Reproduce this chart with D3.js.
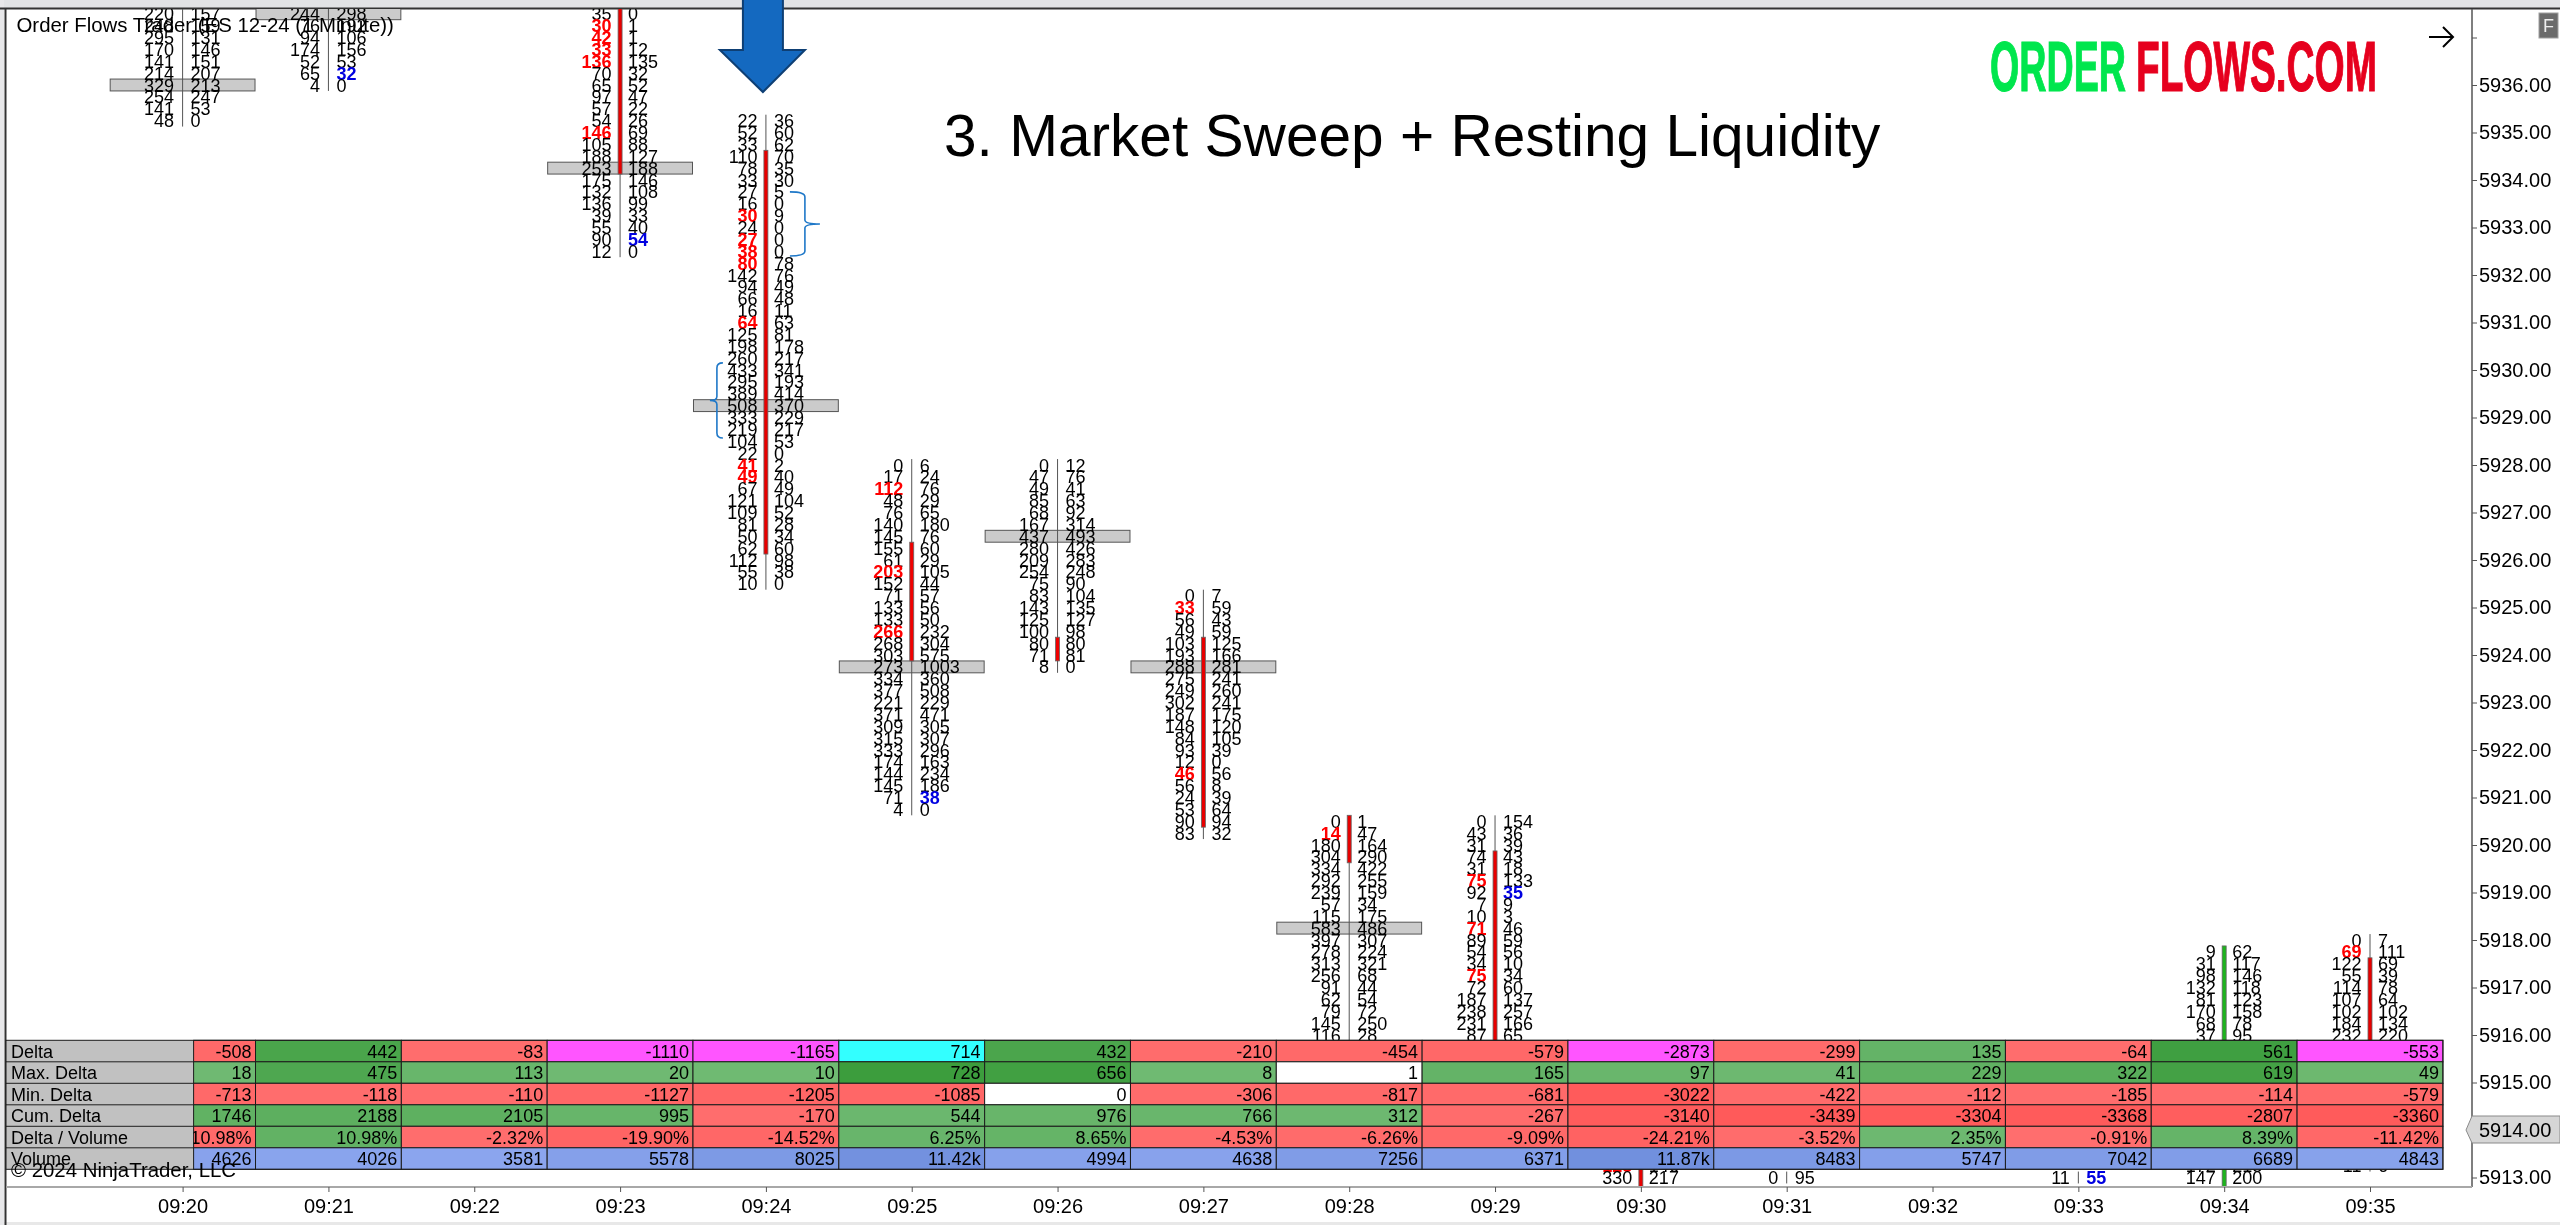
<!DOCTYPE html>
<html><head><meta charset="utf-8">
<script src="https://cdn.jsdelivr.net/npm/d3@7/dist/d3.min.js"></script>
<style>
html,body{margin:0;padding:0;background:#fff;overflow:hidden}
svg{display:block;filter:blur(0.35px)}
text{font-family:"Liberation Sans",Arial,sans-serif;fill:#000}
</style></head><body>
<script>
// ---------- categories ----------
const times = ["09:20","09:21","09:22","09:23","09:24","09:25","09:26","09:27","09:28","09:29","09:30","09:31","09:32","09:33","09:34","09:35"];
const priceTicks = d3.range(5913, 5938);

// ---------- footprint bars ----------
const barTimes   = ["09:20","09:21","09:23","09:24","09:25","09:26","09:27","09:28","09:29","09:34","09:35"];
const barTop     = [5937.5,5937.5,5937.5,5935.25,5928,5928,5925.25,5920.5,5920.5,5917.75,5918];
const barPoc     = [5936,5937.5,5934.25,5929.25,5923.75,5926.5,5923.75,5918.25,null,null,null];
const bodyHigh   = [null,null,5937.5,5934.5,5926.25,5924.25,5924.25,5920.5,5919.75,5917.75,5917.5];
const bodyLow    = [null,null,5934.25,5926.25,5924,5924,5920.5,5919.75,5916,5916,5916];
const bodyColor  = ["","","#e80000","#e80000","#f00000","#f00000","#e80000","#e80000","#e80000","#1db51d","#e80000"];
const barBids = [
 [220,248,295,170,141,214,329,254,141,48],
 [244,76,94,174,52,65,4],
 [35,30,42,33,136,70,65,97,57,54,146,105,188,253,175,132,136,39,55,90,12],
 [22,52,33,110,78,33,27,16,30,24,27,38,80,142,94,66,16,64,125,198,260,433,295,389,508,333,219,104,22,41,49,67,121,109,81,50,62,112,55,10],
 [0,17,112,48,76,140,145,155,61,203,152,71,133,133,266,268,303,273,334,377,221,371,309,315,333,174,144,145,71,4],
 [0,47,49,85,68,167,437,280,209,254,75,83,143,125,100,80,71,8],
 [0,33,56,49,103,193,288,275,249,302,187,148,84,93,12,46,56,24,53,90,83],
 [0,14,180,304,334,292,239,57,115,583,397,278,313,256,91,62,79,145,116],
 [0,43,31,74,31,75,92,7,10,71,89,54,34,75,72,187,238,231,87],
 [9,31,98,132,81,170,68,37],
 [0,69,122,55,114,107,102,184,232]
];
const barAsks = [
 [157,159,131,146,151,207,213,247,53,0],
 [298,192,106,156,53,32,0],
 [0,1,1,12,135,32,52,47,22,26,69,88,127,188,146,108,99,33,40,54,0],
 [36,60,62,70,35,30,5,0,9,0,0,0,78,76,49,48,11,63,81,178,217,341,193,414,370,229,217,53,0,2,40,49,104,52,28,34,60,98,38,0],
 [6,24,76,29,65,180,76,60,29,105,44,57,56,50,232,304,575,1003,360,508,229,471,305,307,296,163,234,186,38,0],
 [12,76,41,63,92,314,493,426,283,248,90,104,135,127,98,80,81,0],
 [7,59,43,59,125,166,281,241,260,241,175,120,105,39,0,56,8,39,64,94,32],
 [1,47,164,290,422,255,159,34,175,486,307,224,321,68,44,54,72,250,28],
 [154,36,39,43,18,133,35,9,3,46,59,56,10,34,60,137,257,166,65],
 [62,117,146,118,123,158,78,95],
 [7,111,69,39,78,64,102,134,220]
];
const redBidRows  = [[],[],[1,2,3,4,10],[8,10,11,12,17,29,30],[2,9,14],[],[1,15],[1],[5,9,13],[],[1]];
const blueAskRows = [[],[5],[19],[],[28],[],[],[],[6],[],[]];

// rows seen in the strip between the table and the time axis
const lowTimes  = ["09:30","09:30","09:31","09:33","09:34","09:34","09:35"];
const lowPrices = [5913.25,5913,5913,5913,5913.25,5913,5913.25];
const lowBids   = [125,330,0,11,172,147,11];
const lowAsks   = [146,217,95,55,218,200,6];
const lowRedBid = [true,false,false,false,false,false,false];
const lowBlueAsk= [false,false,false,true,false,false,false];
const lowBodies = [["09:30","#e80000"],["09:34","#1db51d"]];

// ---------- statistics table ----------
const rowNames = ["Delta","Max. Delta","Min. Delta","Cum. Delta","Delta / Volume","Volume"];
const deltaVals = [-508,442,-83,-1110,-1165,714,432,-210,-454,-579,-2873,-299,135,-64,561,-553];
const maxDeltaVals = [18,475,113,20,10,728,656,8,1,165,97,41,229,322,619,49];
const minDeltaVals = [-713,-118,-110,-1127,-1205,-1085,0,-306,-817,-681,-3022,-422,-112,-185,-114,-579];
const cumDeltaVals = [1746,2188,2105,995,-170,544,976,766,312,-267,-3140,-3439,-3304,-3368,-2807,-3360];
const deltaVolVals = [-10.98,10.98,-2.32,-19.90,-14.52,6.25,8.65,-4.53,-6.26,-9.09,-24.21,-3.52,2.35,-0.91,8.39,-11.42];
const volumeVals = [4626,4026,3581,5578,8025,11420,4994,4638,7256,6371,11870,8483,5747,7042,6689,4843];

const titleText = "3. Market Sweep + Resting Liquidity";
const instrumentText = "Order Flows Trader (ES 12-24 (1 Minute))";
const copyrightText = "\u00A9 2024 NinjaTrader, LLC";
const lastPrice = 5914;
const bracketRight = ["09:24",5933.75,5932.4];
const bracketLeft  = ["09:24",5930.15,5928.57];
const arrowTime = "09:24";

// ---------- layout ----------
const W=2560,H=1225;
const plot={l:6,t:9,r:2472,b:1187};
const x=d3.scalePoint().domain(times).range([182.6,2370]);
const y=d3.scaleLinear().domain([5936,5913]).range([85,1177.5]);
const rowH=y(5935.75)-y(5936);
const colW=x.step();

const svg=d3.select("body").append("svg").attr("width",W).attr("height",H);
svg.append("rect").attr("width",W).attr("height",H).attr("fill","#fff");
const defs=svg.append("defs");
defs.append("clipPath").attr("id","plotClip").append("rect")
  .attr("x",plot.l).attr("y",plot.t).attr("width",plot.r-plot.l).attr("height",plot.b-plot.t);

// window chrome
svg.append("rect").attr("width",W).attr("height",8).attr("fill","#e2e3e5");
svg.append("rect").attr("y",1222).attr("width",W).attr("height",3).attr("fill","#e8e8e8");
svg.append("rect").attr("width",4).attr("height",H).attr("fill","#e8e8ea");
svg.append("line").attr("x1",0).attr("x2",W).attr("y1",8.5).attr("y2",8.5).attr("stroke","#333").attr("stroke-width",2);
svg.append("line").attr("x1",5.5).attr("x2",5.5).attr("y1",8).attr("y2",H).attr("stroke","#333").attr("stroke-width",2);

// footprints
const fp=svg.append("g").attr("clip-path","url(#plotClip)");
const FS=18;
function drawRow(g,cx,price,bid,ask,red,blue){
  const yy=y(price);
  g.append("text").attr("x",cx-8.5).attr("y",yy+6.5).attr("text-anchor","end")
    .attr("font-size",FS).attr("font-weight",red?"bold":"normal")
    .style("fill",red?"#ff0000":"#000").text(bid);
  g.append("text").attr("x",cx+8).attr("y",yy+6.5)
    .attr("font-size",FS).attr("font-weight",blue?"bold":"normal")
    .style("fill",blue?"#0000e0":"#000").text(ask);
}
const pocG=fp.append("g"), wickG=fp.append("g"), bodyG=fp.append("g"), textG=fp.append("g");
barTimes.forEach((t,i)=>{
  const cx=x(t), top=barTop[i], n=barBids[i].length;
  if(barPoc[i]!==null){
    pocG.append("rect").attr("x",cx-colW/2+.5).attr("y",y(barPoc[i])-rowH/2).attr("width",colW-1).attr("height",rowH)
      .attr("fill","#cbcbcb").attr("stroke","#555").attr("stroke-width",1);
  }
  wickG.append("line").attr("x1",cx).attr("x2",cx).attr("y1",y(top)-rowH/2).attr("y2",y(top-(n-1)*0.25)+rowH/2)
    .attr("stroke","#555").attr("stroke-width",1);
  if(bodyHigh[i]!==null){
    bodyG.append("rect").attr("x",cx-2).attr("width",4).attr("y",y(bodyHigh[i])-rowH/2)
      .attr("height",y(bodyLow[i])-y(bodyHigh[i])+rowH)
      .attr("fill",bodyColor[i]).attr("stroke","#666").attr("stroke-width",.8);
  }
  barBids[i].forEach((b,k)=>{
    drawRow(textG,cx,top-k*0.25,b,barAsks[i][k],redBidRows[i].includes(k),blueAskRows[i].includes(k));
  });
});
lowBids.forEach((b,i)=>{
  const cx=x(lowTimes[i]);
  wickG.append("line").attr("x1",cx).attr("x2",cx).attr("y1",y(lowPrices[i])-rowH/2).attr("y2",y(lowPrices[i])+rowH/2)
    .attr("stroke","#555");
  drawRow(textG,cx,lowPrices[i],b,lowAsks[i],lowRedBid[i],lowBlueAsk[i]);
});
lowBodies.forEach(([t,c])=>{
  bodyG.append("rect").attr("x",x(t)-2).attr("width",4).attr("y",y(5913.5)).attr("height",y(5912.8)-y(5913.5))
    .attr("fill",c).attr("stroke","#666").attr("stroke-width",.8);
});

// statistics table
const tblTop=1040.3, tblRowH=21.5, tblL=plot.l, hdrR=193.6, tblR=x("09:35")+colW/2;
const greenS=d=>d3.scaleLinear().domain([0,d]).range(["#70ba73","#3c9d3d"]);
const redS=d=>d3.scaleLinear().domain([0,d]).range(["#ff6e6e","#ff5a5a"]);
const fmtInt=v=>String(v);
const tableRows=[
 {v:deltaVals,f:fmtInt,c:(v,i)=>{
    if(v<0&&v/minDeltaVals[i]>=.95)return"#ff55ff";
    if(v>0&&v/maxDeltaVals[i]>=.95)return"#33ffff";
    return v<0?redS(2000)(-v):greenS(600)(v);}},
 {v:maxDeltaVals,f:fmtInt,c:v=>v<=1?"#ffffff":greenS(730)(v)},
 {v:minDeltaVals,f:fmtInt,c:v=>v===0?"#ffffff":redS(3100)(-v)},
 {v:cumDeltaVals,f:fmtInt,c:v=>v<0?redS(3500)(-v):greenS(6000)(v)},
 {v:deltaVolVals,f:v=>v.toFixed(2)+"%",c:v=>v<0?redS(40)(-v):greenS(40)(v)},
 {v:volumeVals,f:v=>v>=10000?(v/1000).toFixed(2)+"k":String(v),
  c:v=>d3.scaleLinear().domain([3500,12000]).range(["#8ba5ee","#7190de"])(v)}
];
const tbl=svg.append("g");
tableRows.forEach((r,ri)=>{
  const ry=tblTop+ri*tblRowH;
  tbl.append("rect").attr("x",tblL).attr("y",ry).attr("width",hdrR-tblL).attr("height",tblRowH).attr("fill","#c1c1c1");
  tbl.append("text").attr("x",11).attr("y",ry+tblRowH/2+6.5).attr("font-size",18).text(rowNames[ri]);
  times.forEach((t,i)=>{
    const xr=x(t)+colW/2, xl=i===0?hdrR:x(t)-colW/2, id=`c${ri}_${i}`;
    defs.append("clipPath").attr("id",id).append("rect").attr("x",xl).attr("y",ry).attr("width",xr-xl).attr("height",tblRowH);
    tbl.append("rect").attr("x",xl).attr("y",ry).attr("width",xr-xl).attr("height",tblRowH)
      .attr("fill",r.c(r.v[i],i)).attr("stroke","#1c1c1c").attr("stroke-width",1);
    tbl.append("text").attr("clip-path",`url(#${id})`).attr("x",xr-4).attr("y",ry+tblRowH/2+6.5)
      .attr("text-anchor","end").attr("font-size",18).text(r.f(r.v[i]));
  });
});
tbl.append("rect").attr("x",tblL).attr("y",tblTop).attr("width",tblR-tblL).attr("height",tblRowH*6)
  .attr("fill","none").attr("stroke","#1c1c1c").attr("stroke-width",1);
d3.range(1,6).forEach(k=>tbl.append("line").attr("x1",tblL).attr("x2",hdrR).attr("y1",tblTop+k*tblRowH).attr("y2",tblTop+k*tblRowH).attr("stroke","#1c1c1c"));

// axes
const axR=svg.append("g").attr("transform",`translate(${plot.r},0)`)
  .call(d3.axisRight(y).tickValues(priceTicks).tickSize(5).tickPadding(2).tickFormat(d=>d===5937?"":d.toFixed(2)));
axR.select(".domain").attr("d",`M0,${plot.t}V${plot.b}`).attr("stroke","#555").attr("stroke-width",1.5);
axR.selectAll("line").attr("stroke","#555");
axR.selectAll("text").attr("font-size",20).attr("font-family",'"Liberation Sans"').style("fill","#000");
const axB=svg.append("g").attr("transform",`translate(0,${plot.b})`)
  .call(d3.axisBottom(x).tickSize(5).tickPadding(7));
axB.select(".domain").attr("d",`M${plot.l},0H${plot.r}`).attr("stroke","#a8a8a8").attr("stroke-width",2);
axB.selectAll("line").attr("stroke","#555");
axB.selectAll("text").attr("font-size",20).attr("font-family",'"Liberation Sans"').style("fill","#000");

// last-price marker
const ly=y(lastPrice);
svg.append("path").attr("d",`M2466,${ly}L2472,${ly-14}H2560V${ly+13}H2472Z`).attr("fill","#d6d6d6").attr("stroke","#8a8a8a");
svg.append("text").attr("x",2479).attr("y",ly+7).attr("font-size",20).text(lastPrice.toFixed(2));

// annotations
svg.append("text").attr("x",16.5).attr("y",32).attr("font-size",20.4).text(instrumentText);
svg.append("text").attr("x",11).attr("y",1177).attr("font-size",20.4).text(copyrightText);
svg.append("text").attr("x",944).attr("y",156).attr("font-size",58.6).text(titleText);

function bracket(x0,xm,xp,y0,y1){
  const ym=(y0+y1)/2;
  return `M${x0},${y0}Q${xm},${y0} ${xm},${y0+5}V${ym-4}Q${xm},${ym} ${xp},${ym}Q${xm},${ym} ${xm},${ym+4}V${y1-5}Q${xm},${y1} ${x0},${y1}`;
}
const bx=x(bracketRight[0]);
svg.append("path").attr("d",bracket(bx+24,bx+39,bx+54,y(bracketRight[1]),y(bracketRight[2]))).attr("fill","none").attr("stroke","#1f78c8").attr("stroke-width",1.6);
svg.append("path").attr("d",bracket(bx-43,bx-49,bx-56,y(bracketLeft[1]),y(bracketLeft[2]))).attr("fill","none").attr("stroke","#1f78c8").attr("stroke-width",1.6);

const ax=x(arrowTime)-3;
svg.append("path").attr("d",`M${ax-20},-2V50H${ax-43}L${ax},92L${ax+42},50H${ax+20}V-2Z`)
  .attr("fill","#1469c0").attr("stroke","#0e3f74").attr("stroke-width",2);

// logo
svg.append("text").attr("x",1990).attr("y",91).attr("font-size",71).attr("font-weight","bold")
  .attr("textLength",136).attr("lengthAdjust","spacingAndGlyphs").style("fill","#00e64d").style("stroke","#00e64d").style("stroke-width",1.2).text("ORDER");
svg.append("text").attr("x",2136).attr("y",91).attr("font-size",71).attr("font-weight","bold")
  .attr("textLength",241).attr("lengthAdjust","spacingAndGlyphs").style("fill","#e6001e").style("stroke","#e6001e").style("stroke-width",1.2).text("FLOWS.COM");

// arrow glyph and F button
svg.append("path").attr("d","M2429,37H2453M2443,27L2453,37L2443,47").attr("fill","none").attr("stroke","#000").attr("stroke-width",2);
svg.append("rect").attr("x",2539).attr("y",13).attr("width",19).attr("height",25).attr("fill","#6b6b6b").attr("stroke","#a0a0a0");
svg.append("text").attr("x",2548.5).attr("y",32).attr("text-anchor","middle").attr("font-size",18).style("fill","#eee").text("F");
</script>
</body></html>
